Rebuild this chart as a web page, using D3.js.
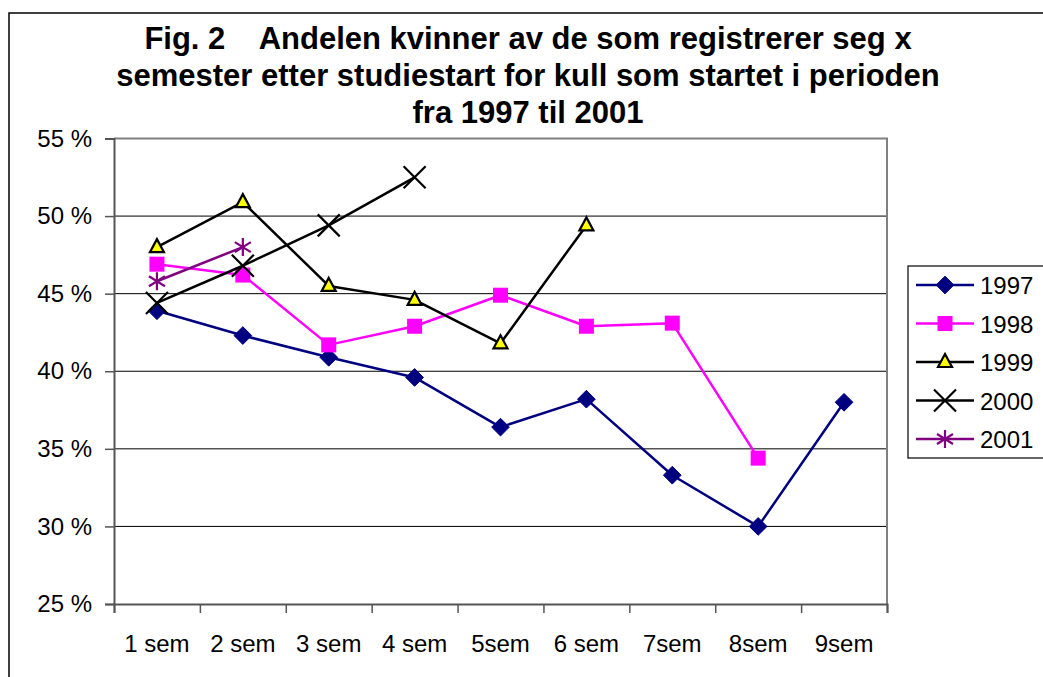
<!DOCTYPE html>
<html>
<head>
<meta charset="utf-8" />
<title>Fig. 2 Andelen kvinner</title>
<style>
  body { margin: 0; background: #fff; }
  svg text { font-family: Arial, "Liberation Sans", sans-serif; }
</style>
</head>
<body>
<svg id="chart" width="1043" height="677"></svg>
<script src="https://d3js.org/d3.v7.min.js"></script>
<script>
// categories along the x axis
var semesters = ["1 sem", "2 sem", "3 sem", "4 sem", "5sem", "6 sem", "7sem", "8sem", "9sem"];
var yTicks = [25, 30, 35, 40, 45, 50, 55];
var years = ["1997", "1998", "1999", "2000", "2001"];

// share of women, percent (null = no value)
var v1997 = [43.9, 42.3, 40.9, 39.6, 36.4, 38.2, 33.3, 30.0, 38.0];
var v1998 = [46.9, 46.2, 41.7, 42.9, 44.9, 42.9, 43.1, 34.4, null];
var v1999 = [48.0, 50.9, 45.5, 44.6, 41.8, 49.4, null, null, null];
var v2000 = [44.4, 46.8, 49.4, 52.5, null, null, null, null, null];
var v2001 = [45.8, 48.0, null, null, null, null, null, null, null];

var titleLines = [
  "Fig. 2    Andelen kvinner av de som registrerer seg x",
  "semester etter studiestart for kull som startet i perioden",
  "fra 1997 til 2001"
];

var svg = d3.select("#chart");

// outer chart frame
svg.append("rect")
  .attr("x", 9).attr("y", 13)
  .attr("width", 1060).attr("height", 700)
  .attr("fill", "#fff").attr("stroke", "#000").attr("stroke-width", 1.5);

var plotL = 114, plotR = 887, plotT = 138.5, plotB = 604;

var x = d3.scaleBand().domain(semesters).range([plotL, plotR]);
var y = d3.scaleLinear().domain([25, 55]).range([plotB, plotT]);
function cx(i) { return x(semesters[i]) + x.bandwidth() / 2; }

// title
svg.append("g").selectAll("text")
  .data(titleLines)
  .enter().append("text")
  .attr("x", 528)
  .attr("y", function(d, i) { return 49 + i * 37; })
  .attr("text-anchor", "middle")
  .attr("font-size", 31)
  .attr("font-weight", "bold")
  .attr("fill", "#000")
  .style("white-space", "pre")
  .text(function(d) { return d; });

// gridlines
svg.append("g").selectAll("line")
  .data(yTicks.filter(function(t) { return t > 25 && t < 55; }))
  .enter().append("line")
  .attr("x1", plotL).attr("x2", plotR)
  .attr("y1", function(d) { return y(d); })
  .attr("y2", function(d) { return y(d); })
  .attr("stroke", "#000").attr("stroke-width", 1);

// plot frame top/right (gray)
svg.append("path")
  .attr("d", "M" + plotL + "," + plotT + "H" + plotR + "V" + plotB)
  .attr("fill", "none").attr("stroke", "#808080").attr("stroke-width", 2);

// y axis
var yAxis = d3.axisLeft(y).tickValues(yTicks).tickSize(9).tickPadding(13)
  .tickFormat(function(d) { return d + " %"; });
var gy = svg.append("g").attr("transform", "translate(" + plotL + ",0)").call(yAxis);
gy.select(".domain").attr("stroke", "#555").attr("stroke-width", 2);
gy.selectAll(".tick line").attr("stroke", "#555").attr("stroke-width", 1.5);
gy.selectAll("text").attr("font-size", 24).attr("font-family", "Arial, 'Liberation Sans', sans-serif").attr("fill", "#000");

// x axis: ticks at band boundaries, labels at centers
var xLin = d3.scaleLinear().domain([0, semesters.length]).range([plotL, plotR]);
var gx = svg.append("g").attr("transform", "translate(0," + plotB + ")")
  .call(d3.axisBottom(xLin).ticks(semesters.length).tickSize(9).tickFormat(""));
gx.select(".domain").attr("stroke", "#555").attr("stroke-width", 2);
gx.selectAll(".tick line").attr("stroke", "#555").attr("stroke-width", 1.5);
svg.append("g").selectAll("text")
  .data(semesters)
  .enter().append("text")
  .attr("x", function(d) { return x(d) + x.bandwidth() / 2; })
  .attr("y", 652)
  .attr("text-anchor", "middle")
  .attr("font-size", 24)
  .attr("fill", "#000")
  .text(function(d) { return d; });

// marker shapes
function drawMarker(g, kind, px, py) {
  if (kind === "diamond") {
    g.append("path").attr("d", d3.symbol().type(d3.symbolDiamond2).size(200)())
      .attr("transform", "translate(" + px + "," + py + ")")
      .attr("fill", "#000080").attr("stroke", "#000080").attr("stroke-width", 1);
  } else if (kind === "square") {
    g.append("rect").attr("x", px - 7.5).attr("y", py - 7.5).attr("width", 15).attr("height", 15)
      .attr("fill", "#ff00ff");
  } else if (kind === "triangle") {
    g.append("path").attr("d", "M" + px + "," + (py - 8) + "L" + (px + 7) + "," + (py + 5) + "L" + (px - 7) + "," + (py + 5) + "Z")
      .attr("fill", "#ffff00").attr("stroke", "#000").attr("stroke-width", 2.2).attr("stroke-linejoin", "miter");
  } else if (kind === "x") {
    g.append("path").attr("d", "M" + (px - 11) + "," + (py - 11) + "L" + (px + 11) + "," + (py + 11) + "M" + (px + 11) + "," + (py - 11) + "L" + (px - 11) + "," + (py + 11))
      .attr("stroke", "#000").attr("stroke-width", 2.2);
  } else if (kind === "star") {
    g.append("path").attr("d", "M" + px + "," + (py - 9) + "V" + (py + 9) +
        "M" + (px - 8) + "," + (py - 5) + "L" + (px + 8) + "," + (py + 5) +
        "M" + (px + 8) + "," + (py - 5) + "L" + (px - 8) + "," + (py + 5))
      .attr("stroke", "#800080").attr("stroke-width", 2.2);
  }
}

var series = [
  { name: years[0], values: v1997, color: "#000080", marker: "diamond" },
  { name: years[1], values: v1998, color: "#ff00ff", marker: "square" },
  { name: years[2], values: v1999, color: "#000000", marker: "triangle" },
  { name: years[3], values: v2000, color: "#000000", marker: "x" },
  { name: years[4], values: v2001, color: "#800080", marker: "star" }
];

var line = d3.line()
  .defined(function(d) { return d != null; })
  .x(function(d, i) { return cx(i); })
  .y(function(d) { return y(d); });

series.forEach(function(s) {
  var g = svg.append("g");
  g.append("path").attr("d", line(s.values))
    .attr("fill", "none").attr("stroke", s.color).attr("stroke-width", 2.5)
    .attr("stroke-linejoin", "round");
  s.values.forEach(function(v, i) {
    if (v != null) drawMarker(g, s.marker, cx(i), y(v));
  });
});

// legend
var lg = svg.append("g");
lg.append("rect").attr("x", 908).attr("y", 266).attr("width", 150).attr("height", 192)
  .attr("fill", "#fff").attr("stroke", "#000").attr("stroke-width", 1.2);
series.forEach(function(s, i) {
  var ly = 285 + i * 38.5;
  lg.append("line").attr("x1", 916).attr("x2", 974).attr("y1", ly).attr("y2", ly)
    .attr("stroke", s.color).attr("stroke-width", 2.5);
  drawMarker(lg, s.marker, 945, ly);
  lg.append("text").attr("x", 980).attr("y", ly + 9)
    .attr("font-size", 24).attr("fill", "#000").text(s.name);
});
</script>
</body>
</html>
